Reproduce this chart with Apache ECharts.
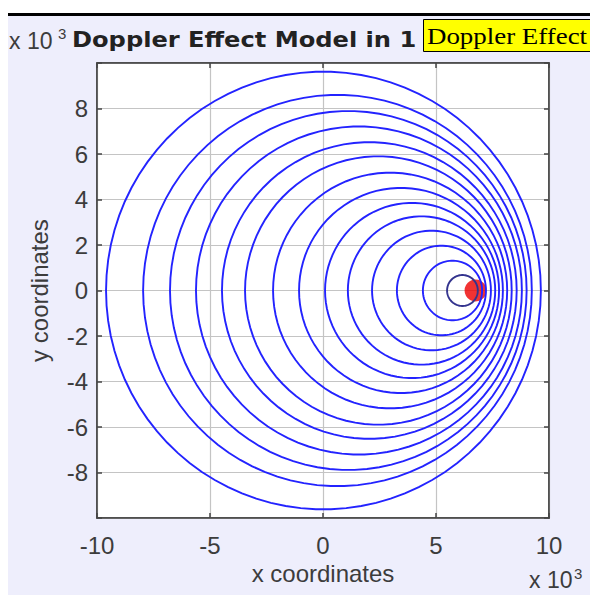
<!DOCTYPE html>
<html>
  <head>
    <meta charset="utf-8">
    <title>Doppler Effect Model</title>
    <script src="https://cdn.jsdelivr.net/npm/echarts@6/dist/echarts.min.js"></script>
    <style>
      html, body { margin: 0; padding: 0; background: #fff; }
      #main { width: 590px; height: 595px; }
    </style>
  </head>
  <body>
    <div id="main"></div>
    <script>
      // wavefronts, innermost (newest) first; values in units of 10^3
      const waveCenterX = [6.17, 5.73, 5.24, 4.80, 4.36, 3.94, 3.45, 2.97, 2.45, 2.05, 1.59, 1.12, 0.64, 0.02];
      const waveCenterY = [0, 0, 0, 0, 0, 0, 0, 0, 0, 0, 0, 0, 0, 0];
      const waveRadius  = [0.68, 1.31, 1.97, 2.63, 3.26, 3.85, 4.51, 5.18, 5.90, 6.52, 7.21, 7.89, 8.60, 9.62];
      const source = [6.75, 0];

      const xTicks = [-10, -5, 0, 5, 10];
      const yTickLabels = [-8, -6, -4, -2, 0, 2, 4, 6, 8];

      const BG = '#eeeefc';
      const TXT = '#3c3c3c';
      const FONT = '"Liberation Sans", Arial, sans-serif';

      const waves = waveCenterX.map((cx, i) => [cx, waveCenterY[i], waveRadius[i], i]);

      const chart = echarts.init(document.getElementById('main'), null, {renderer: 'svg'});

      const axisCommon = {
        type: 'value',
        min: -10,
        max: 10,
        axisLine: {show: true, onZero: false, lineStyle: {color: '#444', width: 1.5}},
        axisTick: {show: true, inside: true, length: 5, lineStyle: {color: '#444', width: 1.5}},
        splitLine: {show: false}
      };

      function txt(x, y, text, font, fill, extra) {
        return Object.assign({
          type: 'text', x: x, y: y, z: 10,
          style: {text: text, font: font, fill: fill, align: 'left', verticalAlign: 'middle', textAlign: 'left', textVerticalAlign: 'middle'}
        }, extra || {});
      }

      chart.setOption({
        backgroundColor: BG,
        animation: false,
        grid: {
          left: 97, right: 41, top: 63, bottom: 77,
          show: true, backgroundColor: '#fff', borderColor: '#444', borderWidth: 1.5
        },
        xAxis: [
          Object.assign({}, axisCommon, {
            position: 'bottom',
            interval: 5,
            name: 'x coordinates',
            nameLocation: 'middle',
            nameGap: 42,
            nameTextStyle: {fontFamily: FONT, fontSize: 24, color: TXT},
            axisLabel: {
              fontFamily: FONT, fontSize: 24, color: TXT, margin: 15,
              formatter: v => xTicks.indexOf(v) >= 0 ? String(v) : ''
            },
            splitLine: {show: true, lineStyle: {color: '#c4c4c4', width: 1.2}}
          }),
          Object.assign({}, axisCommon, {
            position: 'top', interval: 5, axisLabel: {show: false}
          })
        ],
        yAxis: [
          Object.assign({}, axisCommon, {
            position: 'left',
            interval: 2,
            name: 'y coordinates',
            nameLocation: 'middle',
            nameGap: 46,
            nameTextStyle: {fontFamily: FONT, fontSize: 24, color: TXT},
            axisLabel: {
              fontFamily: FONT, fontSize: 24, color: TXT, margin: 9,
              formatter: v => yTickLabels.indexOf(v) >= 0 ? String(v) : ''
            },
            splitLine: {show: true, lineStyle: {color: '#c4c4c4', width: 1.2}}
          }),
          Object.assign({}, axisCommon, {
            position: 'right', interval: 2, axisLabel: {show: false}
          })
        ],
        series: [
          {
            type: 'scatter',
            data: [source],
            symbolSize: 22,
            itemStyle: {color: '#ee0000'},
            z: 2
          },
          {
            type: 'custom',
            data: waves,
            z: 3,
            renderItem: function (params, api) {
              const cx = api.value(0), cy = api.value(1), r = api.value(2);
              const pts = [];
              for (let a = 0; a < 360; a += 4) {
                const t = a * Math.PI / 180;
                pts.push(api.coord([cx + r * Math.cos(t), cy + r * Math.sin(t)]));
              }
              return {
                type: 'polygon',
                shape: {points: pts},
                style: {
                  fill: 'none',
                  stroke: api.value(3) === 0 ? '#34348e' : '#2323ff',
                  lineWidth: 1.9
                }
              };
            }
          }
        ],
        graphic: [
          {type: 'rect', left: 0, top: 0, shape: {width: 590, height: 13}, style: {fill: '#fff'}, z: 10},
          {type: 'rect', left: 0, top: 0, shape: {width: 8, height: 595}, style: {fill: '#fff'}, z: 10},
          {type: 'rect', left: 8, top: 13, shape: {width: 582, height: 3}, style: {fill: '#000'}, z: 11},
          txt(9, 41, 'x 10', '23px ' + FONT, TXT),
          txt(58, 33, '3', '15px ' + FONT, TXT),
          txt(72, 40, 'Doppler Effect Model in 1', 'bold 21px "DejaVu Sans", sans-serif', '#222', {scaleX: 1.15}),
          {
            type: 'rect', left: 423, top: 19, z: 12,
            shape: {width: 180, height: 32},
            style: {fill: '#ffff00', stroke: '#000', lineWidth: 1}
          },
          txt(427, 36, 'Doppler Effect', '23px "Liberation Serif", serif', '#000', {scaleX: 1.17, z: 13}),
          txt(529, 580, 'x 10', '23px ' + FONT, TXT),
          txt(574, 573, '3', '15px ' + FONT, TXT)
        ]
      });
    </script>
  </body>
</html>
